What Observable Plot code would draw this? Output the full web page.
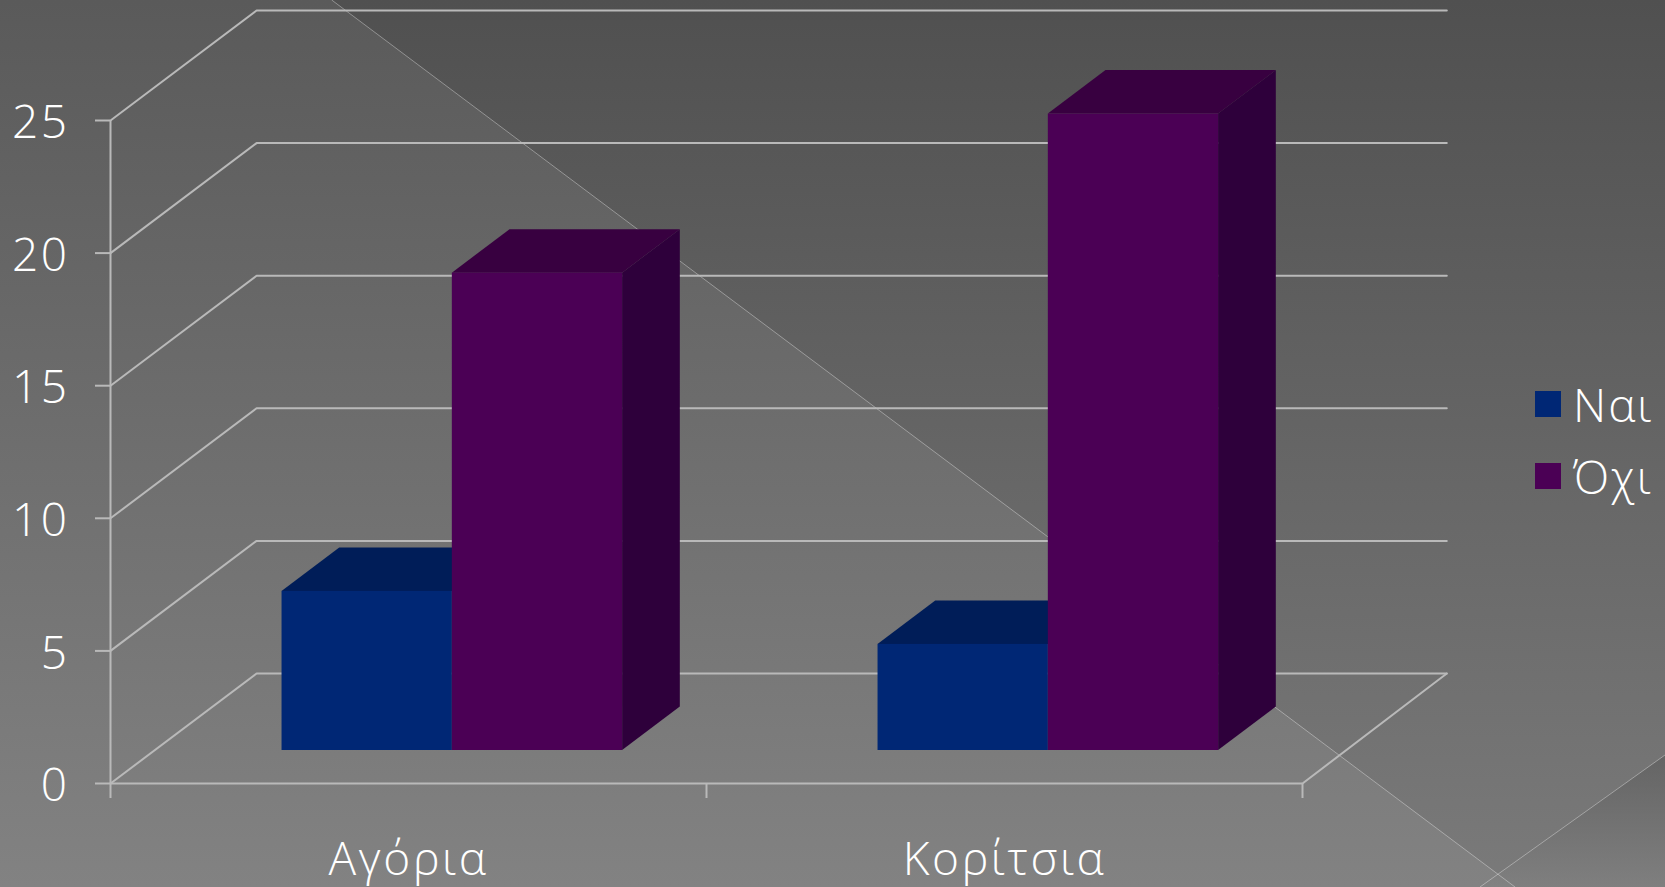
<!DOCTYPE html>
<html lang="el">
<head>
<meta charset="utf-8">
<title>Αγόρια και Κορίτσια</title>
<script src="https://cdn.jsdelivr.net/npm/d3@7"></script>
<script src="https://cdn.jsdelivr.net/npm/@observablehq/plot@0.6"></script>
<style>
  html, body { margin: 0; padding: 0; width: 1665px; height: 887px; overflow: hidden; background: #6c6c6c; }
  #stage { position: relative; width: 1665px; height: 887px; overflow: hidden; font-family: "Open Sans", sans-serif; font-weight: 300; }
  #bg { position: absolute; left: 0; top: 0; }
  #chart { position: absolute; left: 0; top: 0; }
  #chart svg { background: transparent; display: block; }
  #legend { position: absolute; left: 1535px; top: 368px; color: #fff; font-size: 46px; line-height: 72px; letter-spacing: 2px; }
  #legend div { display: flex; align-items: center; height: 72px; }
  #legend i { display: block; width: 26px; height: 26px; margin-right: 12px; }
</style>
</head>
<body>
<div id="stage">
  <svg id="bg" width="1665" height="887">
    <defs>
      <linearGradient id="light" x1="0" y1="0" x2="0" y2="1"><stop offset="0" stop-color="#5a5a5a"/><stop offset="1" stop-color="#828282"/></linearGradient>
      <linearGradient id="dark" x1="0" y1="0" x2="0" y2="1"><stop offset="0" stop-color="#505050"/><stop offset="1" stop-color="#7a7a7a"/></linearGradient>
    </defs>
    <rect width="1665" height="887" fill="url(#light)"/>
    <polygon points="331.7,0 1665,0 1665,887 1515,887" fill="url(#dark)"/>
    <polygon points="1665,755 1665,887 1480,887" fill="url(#light)" opacity="0.6"/>
    <line x1="331.7" y1="0" x2="1515" y2="887" stroke="#fff" stroke-opacity="0.35" stroke-width="1"/>
    <line x1="1665" y1="755" x2="1480" y2="887" stroke="#fff" stroke-opacity="0.35" stroke-width="1"/>
  </svg>
  <div id="chart"></div>
  <div id="legend"></div>
</div>
<script>
const categories = ["Αγόρια", "Κορίτσια"];
const seriesNames = ["Ναι", "Όχι"];
const nai = [6, 4];
const oxi = [18, 24];
const yTicks = [0, 5, 10, 15, 20, 25];
const xTicks = [0, 1, 2];

const colors = {
  "Ναι": {front: "#002775", top: "#001d58", side: "#001540"},
  "Όχι": {front: "#4b0055", top: "#380040", side: "#2e003b"}
};
const gridColor = "#b9b9b9";

// oblique projection: one unit of depth shifts a point along both scales
const depthX = 0.2451, depthY = 4.148;
const barWidth = 1 / 3.5, gap = 0.75 / 3.5;
const dFront = 0.3, dBack = 0.695;

const bars = categories.flatMap((c, i) => [
  {key: c + "0", name: seriesNames[0], x0: i + gap, value: nai[i]},
  {key: c + "1", name: seriesNames[1], x0: i + gap + barWidth, value: oxi[i]}
]);

const px = (x, d) => x + d * depthX;
const py = (v, d) => v + d * depthY;

const topFaces = bars.flatMap(b => [dFront, dBack].map(d => ({
  key: b.key, name: b.name, y: py(b.value, d), x1: px(b.x0, d), x2: px(b.x0 + barWidth, d)
})));
const sideFaces = bars.flatMap(b => [dFront, dBack].map(d => ({
  key: b.key, name: b.name, x: px(b.x0 + barWidth, d), y1: py(0, d), y2: py(b.value, d)
})));

const gridPaths = yTicks.flatMap(t => [
  {t, x: 0, y: t},
  {t, x: depthX, y: t + depthY},
  {t, x: 2 + depthX - 0.003, y: t + depthY}
]);
const floorEdge = [{x: 2, y: 0}, {x: 2 + depthX - 0.003, y: depthY}];

const strokeWidth = 2;

const chart = Plot.plot({
  width: 1665,
  height: 887,
  marginLeft: 110,
  marginRight: 363,
  marginTop: 120,
  marginBottom: 104,
  style: {background: "transparent", color: "#fff", fontFamily: "'Open Sans', sans-serif", fontSize: "46px", fontWeight: 300, letterSpacing: "2.5px"},
  x: {domain: [0, 2], axis: null},
  y: {domain: [0, 25], axis: null},
  marks: [
    Plot.line(gridPaths, {x: "x", y: "y", z: "t", stroke: gridColor, strokeWidth, curve: "linear"}),
    Plot.line(floorEdge, {x: "x", y: "y", stroke: gridColor, strokeWidth}),
    Plot.ruleY([0], {x1: 0, x2: 2, stroke: gridColor, strokeWidth}),
    Plot.ruleX([0], {y1: 0, y2: 25, stroke: gridColor, strokeWidth}),
    Plot.axisY({ticks: yTicks, tickSize: 15, tickFormat: () => "", stroke: gridColor, strokeWidth, label: null}),
    Plot.axisY({ticks: yTicks, tickSize: 0, tickPadding: 41, label: null, fill: "#fff", dy: 3}),
    Plot.axisX({ticks: xTicks, tickSize: 15, tickFormat: () => "", stroke: gridColor, strokeWidth, label: null}),
    Plot.text(categories, {x: (d, i) => i + 0.5, y: 0, dy: 77, text: d => d, fill: "#fff", fontSize: 46, fontWeight: 300}),
    ...bars.flatMap(b => [
      Plot.areaY(sideFaces.filter(f => f.key === b.key), {x: "x", y1: "y1", y2: "y2", fill: colors[b.name].side}),
      Plot.areaX(topFaces.filter(f => f.key === b.key), {y: "y", x1: "x1", x2: "x2", fill: colors[b.name].top}),
      Plot.rect([b], {
        x1: d => px(d.x0, dFront), x2: d => px(d.x0 + barWidth, dFront),
        y1: () => py(0, dFront), y2: d => py(d.value, dFront), fill: colors[b.name].front
      })
    ])
  ]
});
document.getElementById("chart").append(chart);

const legend = document.getElementById("legend");
seriesNames.forEach(n => {
  const row = document.createElement("div");
  const sw = document.createElement("i");
  sw.style.background = colors[n].front;
  const label = document.createElement("span");
  label.textContent = n;
  row.append(sw, label);
  legend.append(row);
});
</script>
</body>
</html>
